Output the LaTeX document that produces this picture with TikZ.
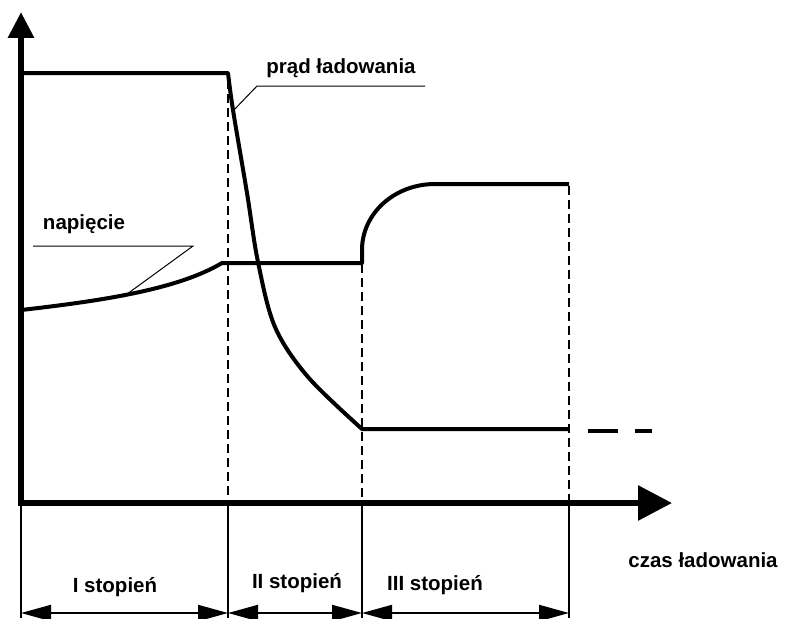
\documentclass[tikz,border=0pt]{standalone}
\usepackage{fontspec}
\setmainfont{Liberation Sans}
\usetikzlibrary{arrows.meta}
\begin{document}
\begin{tikzpicture}[x=1pt,y=-1pt,
  lbl/.style={font=\fontsize{20.5}{24}\selectfont\bfseries, anchor=base, inner sep=0pt},
  curve/.style={line width=4pt, line join=round},
  guide/.style={line width=2pt, dash pattern=on 9pt off 5pt},
  ext/.style={line width=2pt},
  leader/.style={line width=1pt},
  axis/.style={line width=6pt},
  dim/.style={line width=2pt, {Triangle[length=30pt,width=16pt]}-{Triangle[length=30pt,width=16pt]}},
]
\clip (0,0) rectangle (786,618);
% key points
\coordinate (O) at (21,503);
\coordinate (ytip) at (21,12);
\coordinate (xtip) at (672,503);
\coordinate (t1) at (228,503);
\coordinate (t2) at (362,503);
\coordinate (t3) at (569,503);
\coordinate (b0) at (21,618);
\coordinate (b1) at (228,618);
\coordinate (b2) at (362,618);
\coordinate (b3) at (569,618);
\coordinate (d0) at (21,613);
\coordinate (d1) at (228,613);
\coordinate (d2) at (362,613);
\coordinate (d3) at (569,613);
% axes
\draw[axis, -{Triangle[length=26pt,width=25pt]}] (21,506) -- (ytip);
\draw[axis, -{Triangle[length=34pt,width=34pt]}] (18,503) -- (xtip);
% guide lines (dashed)
\draw[guide] (228,80) -- (t1);
\draw[guide] (362,264) -- (t2);
\draw[guide] (569,186) -- (t3);
% extension lines below axis
\draw[ext] (O) -- (b0);
\draw[ext] (t1) -- (b1);
\draw[ext] (t2) -- (b2);
\draw[ext] (t3) -- (b3);
% dimension arrows
\draw[dim] (d0) -- (d1);
\draw[dim] (d1) -- (d2);
\draw[dim] (d2) -- (d3);
% current curve
\draw[curve] (21,73) -- (228,73) -- plot[smooth, tension=0.55] coordinates {(228,73) (233,110) (247,193) (258,262) (275,327) (308,377) (362,429)} -- (569,429);
\draw[line width=4pt, dash pattern=on 30pt off 17pt] (588,431) -- (652,431);
% voltage curve
\draw[curve] (21,310) .. controls (110,300) and (180,288) .. (222,263) -- (362,263) -- (362,250) .. controls (362,213) and (395,184) .. (435,184) -- (569,184);
% leaders
\draw[leader] (425,86) -- (257,86) -- (232,112);
\draw[leader] (33,246) -- (193,246) -- (123,297);
% labels
\node[lbl] (lprad) at (341,74) {prąd ładowania};
\node[lbl] (lnap) at (84,229) {napięcie};
\node[lbl] (lczas) at (703,567) {czas ładowania};
\node[lbl] (ls1) at (115,592) {I stopień};
\node[lbl] (ls2) at (297,588) {II stopień};
\node[lbl] (ls3) at (435,590) {III stopień};
\end{tikzpicture}
\end{document}
